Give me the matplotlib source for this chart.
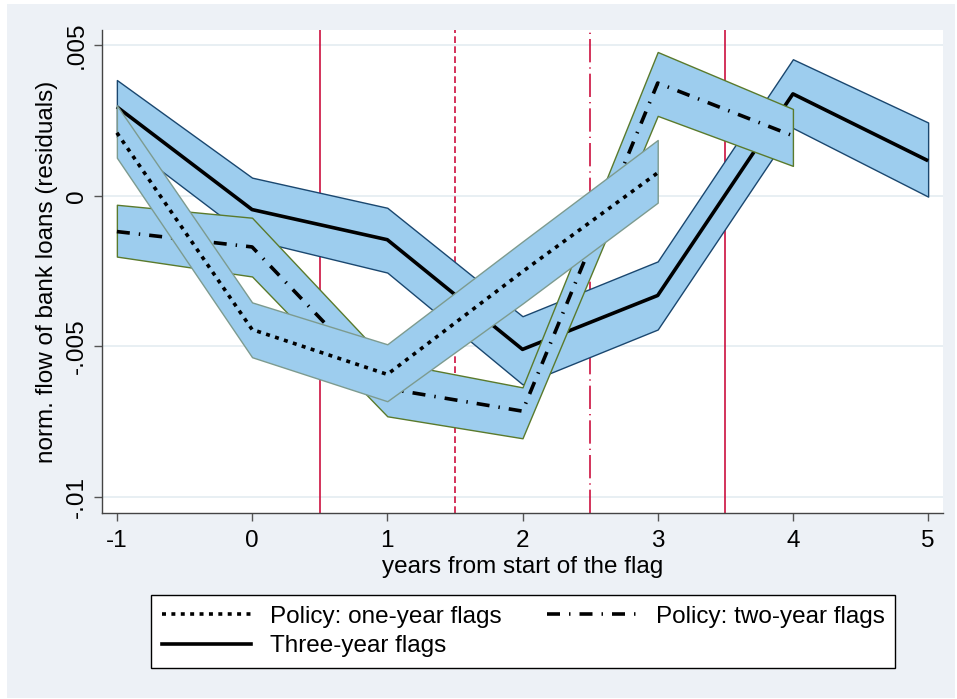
import matplotlib
matplotlib.use("Agg")
import matplotlib.pyplot as plt
from matplotlib.lines import Line2D
from matplotlib.patches import Rectangle

# three-year flags
x3 = [-1, 0, 1, 2, 3, 4, 5]
est3 = [0.00295, -0.00046, -0.00146, -0.0051, -0.00331, 0.00338, 0.00116]
hi3 = [0.00384, 0.0006, -0.0004, -0.0040, -0.00218, 0.00453, 0.00243]
lo3 = [0.00195, -0.00146, -0.00255, -0.00626, -0.00444, 0.00225, -0.00003]

# policy: two-year flags
x2 = [-1, 0, 1, 2, 3, 4]
est2 = [-0.00119, -0.0017, -0.0064, -0.00715, 0.00374, 0.00199]
hi2 = [-0.0003, -0.00073, -0.0055, -0.00636, 0.00477, 0.00288]
lo2 = [-0.00202, -0.00268, -0.00732, -0.00805, 0.00265, 0.00099]

# policy: one-year flags
x1 = [-1, 0, 1, 2, 3]
est1 = [0.00209, -0.00444, -0.00593, -0.00252, 0.00076]
hi1 = [0.0030, -0.00354, -0.00493, -0.00152, 0.00185]
lo1 = [0.00126, -0.00536, -0.00682, -0.00358, -0.00023]

xticks = [-1, 0, 1, 2, 3, 4, 5]
yticks = [0.005, 0, -0.005, -0.01]
ytick_labels = [".005", "0", "-.005", "-.01"]
vlines = [0.5, 1.5, 2.5, 3.5]

plt.rcParams["font.family"] = ["Liberation Sans", "DejaVu Sans"]

BG = "#edf1f6"
FILL = "#9dcdee"
RED = "#cc1040"
FS = 17.5

fig = plt.figure(figsize=(9.57, 6.99), dpi=100, facecolor="white")
fig.patches.append(Rectangle((7 / 957, 1 / 699), 948 / 957, 694 / 699,
                             transform=fig.transFigure, facecolor=BG,
                             edgecolor="none", zorder=-10))
ax = fig.add_axes([102 / 957, 1 - 513 / 699, 841 / 957, 483 / 699])
ax.set_facecolor("white")

ax.set_xlim(-1.11, 5.11)
ax.set_ylim(-0.01053, 0.0055)

for y in yticks:
    ax.axhline(y, color="#e6eef2", lw=1.3, zorder=0)

red_styles = ["-", (0, (4, 2)), (0, (14, 3, 0.8, 3)), "-"]
for xv, ls in zip(vlines, red_styles):
    ax.axvline(xv, color=RED, lw=1.2, ls=ls, zorder=1)

series = [
    (x3, est3, hi3, lo3, "#1a476f", "-"),
    (x2, est2, hi2, lo2, "#5a7a2c", (0, (3.6, 2.5, 0.4, 2.5))),
    (x1, est1, hi1, lo1, "#7d9b8f", (0, (1.1, 1.5))),
]
z = 2
for xs, est, hi, lo, ec, ls in series:
    ax.fill_between(xs, lo, hi, facecolor=FILL, edgecolor=ec, lw=1.0, zorder=z)
    ax.plot(xs, est, color="black", lw=2.6, ls=ls, zorder=z + 1,
            solid_capstyle="butt", dash_capstyle="butt")
    z += 2

for side in ["top", "right"]:
    ax.spines[side].set_visible(False)
for side in ["left", "bottom"]:
    ax.spines[side].set_color("#444444")
    ax.spines[side].set_linewidth(1.0)

ax.set_xticks(xticks)
ax.set_xticklabels([str(v) for v in xticks])
ax.set_yticks(yticks)
ax.set_yticklabels(ytick_labels, rotation=90, va="center")
ax.tick_params(axis="both", length=6, width=1, color="#555555",
               labelsize=FS)
ax.tick_params(axis="x", pad=6)
ax.tick_params(axis="y", pad=4)

ax.set_xlabel("years from start of the flag", fontsize=FS)
ax.xaxis.set_label_coords(0.5, -0.088)
ax.set_ylabel("norm. flow of bank loans (residuals)", fontsize=FS)
ax.yaxis.set_label_coords(-0.052, 0.5)

handles = [
    Line2D([], [], color="black", lw=2.6, ls=(0, (1.1, 1.5))),
    Line2D([], [], color="black", lw=2.6, ls="-"),
    Line2D([], [], color="black", lw=2.6, ls=(0, (3.6, 2.5, 0.4, 2.5))),
]
labels = ["Policy: one-year flags", "Three-year flags", "Policy: two-year flags"]
leg = fig.legend(handles, labels, ncol=2, loc="center",
                 bbox_to_anchor=(523 / 957, 1 - 631.5 / 699),
                 fontsize=FS, frameon=True, fancybox=False,
                 edgecolor="black", facecolor="white", framealpha=1,
                 handlelength=3.7, columnspacing=1.9, handletextpad=0.75,
                 borderpad=0.45, labelspacing=0.3)
leg.get_frame().set_linewidth(1.0)

fig.savefig("out.png", dpi=100, facecolor=fig.get_facecolor())
